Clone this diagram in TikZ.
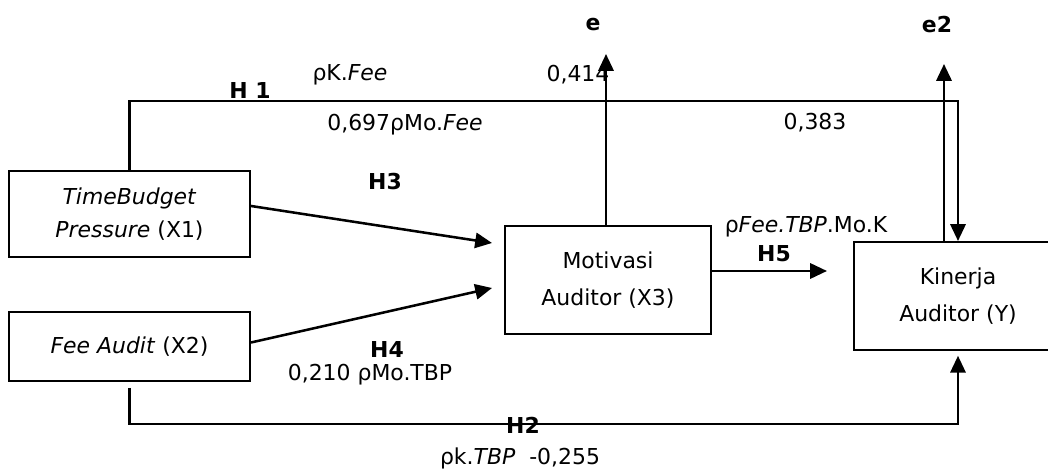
\documentclass[tikz,border=0pt]{standalone}
\usepackage{fontspec}
\setmainfont{DejaVu Sans}
\usepackage{tikz}
\usetikzlibrary{positioning}
\usetikzlibrary{arrows.meta}

\begin{document}
\begin{tikzpicture}[x=0.025cm, y=-0.025cm,
		every node/.style={font=\fontsize{15.6}{18}\selectfont, inner sep=0pt},
		var/.style={draw, line width=1.4pt, align=center, font=\fontsize{15.6}{26}\selectfont},
		link/.style={line width=1.8pt, -{Triangle[length=0.42cm,width=0.38cm]}},
		hyp/.style={font=\bfseries\fontsize{15.6}{18}\selectfont}]
	\useasboundingbox (0,0) rectangle (1048,471);
	\node[var, minimum width=6.025cm, minimum height=2.15cm, font=\fontsize{15.6}{23.5}\selectfont] (tbp) at (129.5,214) {\textit{TimeBudget}\\\textit{Pressure} (X1)};
	\node[var, minimum width=6.025cm, minimum height=1.725cm] (fee) at (129.5,346.5) {\textit{Fee Audit} (X2)};
	\node[var, minimum width=5.15cm, minimum height=2.7cm] (mot) at (608,280) {Motivasi\\Auditor (X3)};
	\node[var, minimum width=5.2cm, minimum height=2.7cm] (kin) at (958,296) {Kinerja\\Auditor (Y)};
	\coordinate (etip) at (606,54);
	\coordinate (e2tip) at (944,64);
	\coordinate (top) at (540,101);
	\coordinate (bot) at (540,424);
	\coordinate (in1) at (492,243);
	\coordinate (in2) at (492,288);
	\coordinate (in5) at (827,271);
	\draw[link] (tbp.north) |- (top) -| (kin.north);
	\draw[link] (kin.north -| e2tip) -- (e2tip);
	\draw[link] (mot.north -| etip) -- (etip);
	\draw[link] ([yshift=0.2cm]tbp.east) -- (in1);
	\draw[link] ([yshift=0.1cm]fee.east) -- (in2);
	\draw[link] (mot.east |- in5) -- (in5);
	\draw[link] ([yshift=-0.15cm]fee.south) |- (bot) -| ([yshift=-0.12cm]kin.south);
	\node[hyp] (e) at (593,25) {e};
	\node[hyp] (e2) at (937,25) {e2};
	\node (p414) at (578,75) {0,414};
	\node (pkfee) at (350,75) {ρK.\textit{Fee}};
	\node[hyp, anchor=south] (h1) at (250,99) {H 1};
	\node (p697) at (405,125) {0,697ρMo.\textit{Fee}};
	\node (p383) at (815,123) {0,383};
	\node[hyp] (h3) at (385,182) {H3};
	\node (pfee) at (806,227) {ρ\textit{Fee.TBP}.Mo.K};
	\node[hyp] (h5) at (774,254) {H5};
	\node[hyp] (h4) at (387,350) {H4};
	\node (p210) at (370,375) {0,210 ρMo.TBP};
	\node[hyp] (h2) at (523,425) {H2};
	\node (ptbp) at (520,458) {ρk.\textit{TBP}\ \ -0,255};
\end{tikzpicture}
\end{document}
